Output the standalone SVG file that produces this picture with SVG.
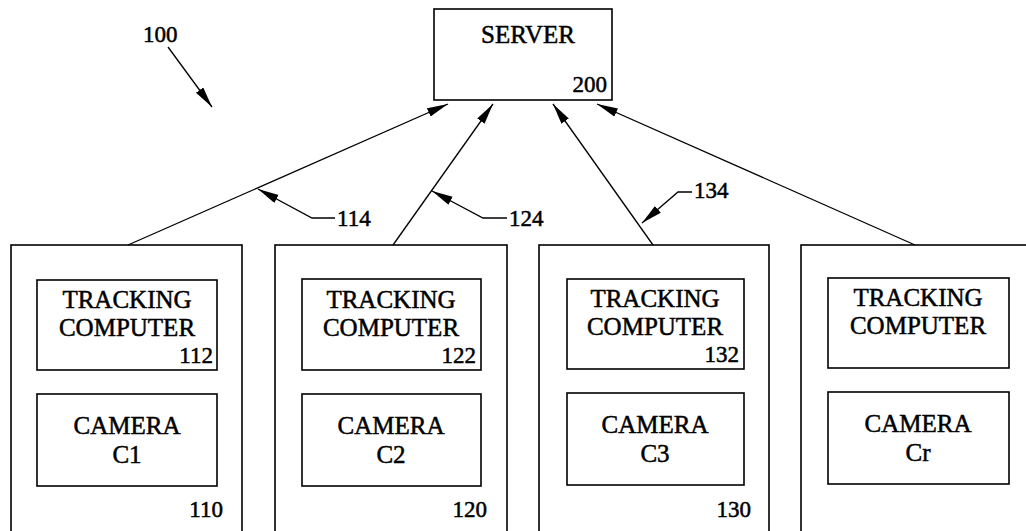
<svg xmlns="http://www.w3.org/2000/svg" width="1026" height="531" viewBox="0 0 1026 531">
<style>
.box{fill:none;stroke:#000;stroke-width:1.6}
.ln{fill:none;stroke:#000;stroke-width:1.3}
.t{font-family:"Liberation Serif","Times New Roman",serif;font-size:25px;fill:#000;stroke:#000;stroke-width:0.5;text-anchor:middle}
.n{font-family:"Liberation Serif","Times New Roman",serif;font-size:23px;fill:#000;stroke:#000;stroke-width:0.5}
.e{text-anchor:end}
</style>
<defs>
<marker id="ah" markerUnits="userSpaceOnUse" markerWidth="22" markerHeight="10" refX="21" refY="4.5" orient="auto">
<path d="M0,0 L21,4.5 L0,9 Z" fill="#000"/>
</marker>
</defs>
<rect width="1026" height="531" fill="#fff"/>

<g id="label-100">
<text class="n" x="143" y="42">100</text>
<line class="ln" x1="168" y1="47" x2="212" y2="107" marker-end="url(#ah)"/>
</g>

<g id="server">
<rect class="box" x="434" y="9" width="178" height="91"/>
<text class="t" x="528" y="43">SERVER</text>
<text class="n e" x="607" y="92">200</text>
</g>

<g id="node-110">
<rect class="box" x="11" y="245" width="231" height="300"/>
<rect class="box" x="37" y="280" width="180" height="90"/>
<text class="t" x="127" y="308">TRACKING</text>
<text class="t" x="127" y="336">COMPUTER</text>
<text class="n e" x="213" y="363">112</text>
<rect class="box" x="37" y="394" width="180" height="92"/>
<text class="t" x="127" y="434">CAMERA</text>
<text class="t" x="127" y="463">C1</text>
<text class="n e" x="223" y="517">110</text>
</g>

<g id="node-120">
<rect class="box" x="275" y="245" width="232" height="300"/>
<rect class="box" x="302" y="279" width="179" height="91"/>
<text class="t" x="391" y="308">TRACKING</text>
<text class="t" x="391" y="336">COMPUTER</text>
<text class="n e" x="476" y="363">122</text>
<rect class="box" x="302" y="394" width="179" height="92"/>
<text class="t" x="391" y="434">CAMERA</text>
<text class="t" x="391" y="463">C2</text>
<text class="n e" x="487" y="517">120</text>
</g>

<g id="node-130">
<rect class="box" x="539" y="245" width="230" height="300"/>
<rect class="box" x="567" y="279" width="177" height="90"/>
<text class="t" x="655" y="307">TRACKING</text>
<text class="t" x="655" y="335">COMPUTER</text>
<text class="n e" x="739" y="362">132</text>
<rect class="box" x="567" y="393" width="177" height="92"/>
<text class="t" x="655" y="433">CAMERA</text>
<text class="t" x="655" y="462">C3</text>
<text class="n e" x="751" y="517">130</text>
</g>

<g id="node-r">
<rect class="box" x="801" y="245" width="240" height="300"/>
<rect class="box" x="828" y="278" width="181" height="90"/>
<text class="t" x="918" y="306">TRACKING</text>
<text class="t" x="918" y="334">COMPUTER</text>
<rect class="box" x="828" y="392" width="181" height="92"/>
<text class="t" x="918" y="432">CAMERA</text>
<text class="t" x="918" y="461">Cr</text>
</g>

<g id="connectors">
<line class="ln" x1="128" y1="245" x2="448" y2="104" marker-end="url(#ah)"/>
<line class="ln" x1="393" y1="245" x2="493" y2="104" marker-end="url(#ah)"/>
<line class="ln" x1="653" y1="245" x2="553" y2="104" marker-end="url(#ah)"/>
<line class="ln" x1="915" y1="245" x2="597" y2="104" marker-end="url(#ah)"/>
</g>

<g id="leaders">
<polyline class="ln" points="335,218 312,218 258,189" marker-end="url(#ah)"/>
<text class="n" x="337" y="226">114</text>
<polyline class="ln" points="507,218 483,218 432,191" marker-end="url(#ah)"/>
<text class="n" x="509" y="226">124</text>
<polyline class="ln" points="692,192 678,192 642,223" marker-end="url(#ah)"/>
<text class="n" x="694" y="198">134</text>
</g>
</svg>
